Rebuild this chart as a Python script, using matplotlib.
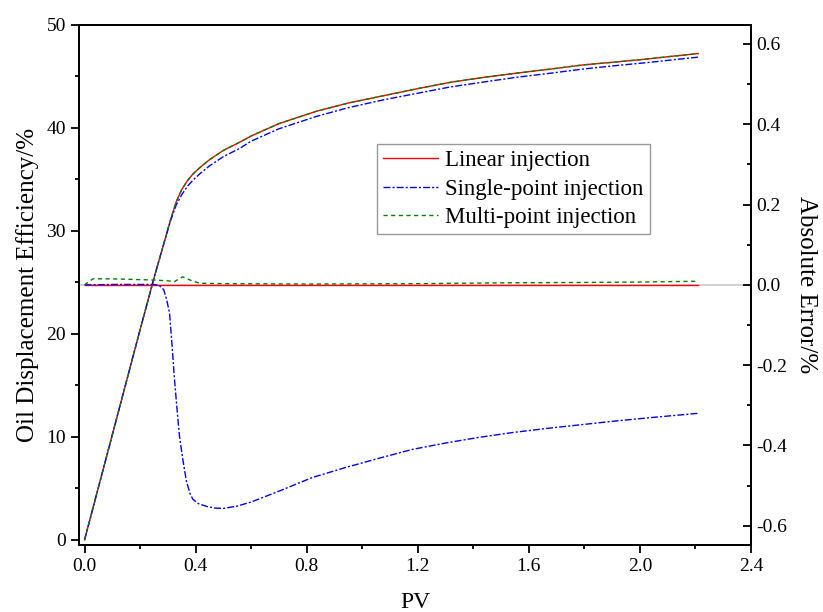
import numpy as np
import matplotlib
matplotlib.use('Agg')
import matplotlib.pyplot as plt
from matplotlib.ticker import MultipleLocator, FormatStrFormatter

plt.rcParams['font.family'] = 'Liberation Serif'
plt.rcParams['axes.unicode_minus'] = False

# oil displacement efficiency (%) vs PV
pv_eff = [0.0, 0.1, 0.2, 0.25, 0.288, 0.31, 0.33, 0.35, 0.37, 0.39, 0.414, 0.45, 0.5,
          0.559, 0.6, 0.7, 0.835, 0.95, 1.075, 1.2, 1.315, 1.44, 1.556, 1.68, 1.795,
          1.92, 2.036, 2.12, 2.21]
eff_linear = [0.0, 10.2, 20.4, 25.4, 29.0, 31.1, 32.8, 34.0, 34.85, 35.5, 36.1, 36.9, 37.8,
              38.6, 39.2, 40.4, 41.6, 42.4, 43.1, 43.8, 44.4, 44.9, 45.3, 45.7, 46.1,
              46.4, 46.7, 46.95, 47.2]
eff_single = [0.0, 10.2, 20.4, 25.4, 29.0, 31.0, 32.5, 33.5, 34.3, 34.9, 35.5, 36.3, 37.2,
              38.0, 38.7, 39.9, 41.1, 41.95, 42.7, 43.35, 43.95, 44.45, 44.9, 45.3, 45.7,
              46.05, 46.35, 46.6, 46.85]
eff_multi = [0.0, 10.2, 20.4, 25.4, 29.0, 31.1, 32.8, 34.0, 34.85, 35.5, 36.1, 36.9, 37.8,
             38.6, 39.2, 40.4, 41.6, 42.4, 43.1, 43.8, 44.4, 44.9, 45.3, 45.7, 46.1,
             46.4, 46.7, 46.95, 47.2]

# absolute error (%) vs PV
pv_err_lin = [0.0, 2.21]
err_linear = [0.0, 0.0]
pv_err_single = [0.0, 0.1, 0.2, 0.25, 0.27, 0.285, 0.295, 0.306, 0.315, 0.324, 0.333,
                 0.342, 0.355, 0.367, 0.38, 0.39, 0.41, 0.44, 0.47, 0.5, 0.55, 0.6, 0.7,
                 0.82, 0.94, 1.06, 1.18, 1.3, 1.42, 1.54, 1.66, 1.78, 1.9, 2.05, 2.21]
err_single = [0.0, 0.001, 0.001, 0.001, -0.002, -0.012, -0.035, -0.07, -0.15, -0.236,
              -0.31, -0.378, -0.44, -0.49, -0.52, -0.534, -0.545, -0.552, -0.556, -0.557,
              -0.551, -0.541, -0.514, -0.48, -0.455, -0.432, -0.41, -0.394, -0.38, -0.368,
              -0.358, -0.349, -0.34, -0.33, -0.32]
pv_err_multi = [0.0, 0.03, 0.1, 0.2, 0.25, 0.3, 0.324, 0.34, 0.353, 0.38, 0.414, 0.5,
                0.8, 1.2, 1.5, 1.8, 2.0, 2.21]
err_multi = [0.0, 0.015, 0.015, 0.013, 0.012, 0.010, 0.008, 0.015, 0.02, 0.012, 0.004,
             0.003, 0.002, 0.003, 0.005, 0.006, 0.007, 0.009]

fig = plt.figure(figsize=(8.23, 6.12), dpi=100)
ax = fig.add_axes([0.096, 0.1095, 0.8165, 0.8501])
ax2 = ax.twinx()

lw = 1.0
ax.plot(pv_eff, eff_linear, color='red', lw=lw, label='Linear injection')
ax.plot(pv_eff, eff_single, color='blue', lw=lw, dashes=(5, 1.5, 1.5, 1.5),
        label='Single-point injection')
ax.plot(pv_eff, eff_multi, color='green', lw=lw, dashes=(3, 2.5),
        label='Multi-point injection')

ax2.axhline(0, color='#c8c8c8', lw=1.2, zorder=0)
ax2.plot(pv_err_lin, err_linear, color='red', lw=lw)
ax2.plot(pv_err_single, err_single, color='blue', lw=lw, dashes=(5, 1.5, 1.5, 1.5))
ax2.plot(pv_err_multi, err_multi, color='green', lw=lw, dashes=(3, 2.5))

ax.set_xlim(-0.02, 2.4)
ax.set_ylim(-0.5, 50)
ax2.set_ylim(-0.648, 0.648)

ax.xaxis.set_major_locator(MultipleLocator(0.4))
ax.xaxis.set_minor_locator(MultipleLocator(0.2))
ax.xaxis.set_major_formatter(FormatStrFormatter('%.1f'))
ax.yaxis.set_major_locator(MultipleLocator(10))
ax.yaxis.set_minor_locator(MultipleLocator(5))
ax2.yaxis.set_major_locator(MultipleLocator(0.2))
ax2.yaxis.set_minor_locator(MultipleLocator(0.1))
ax2.yaxis.set_major_formatter(FormatStrFormatter('%.1f'))

for a in (ax, ax2):
    for s in a.spines.values():
        s.set_linewidth(1.3)
ax.tick_params(which='major', direction='out', length=6, width=1.3, labelsize=14)
ax.tick_params(which='minor', direction='out', length=3, width=1.3)
ax2.tick_params(which='major', direction='in', length=6, width=1.3, labelsize=14)
ax2.tick_params(which='minor', direction='in', length=3, width=1.3)

ax.set_xlabel('PV', fontsize=17, labelpad=12)
ax.set_ylabel('Oil Displacement Efficiency/%', fontsize=18, labelpad=5)
ax2.set_ylabel('Absolute Error/%', fontsize=18, rotation=270, labelpad=22)

leg = ax.legend(loc='upper left', bbox_to_anchor=(0.4435, 0.771), borderaxespad=0,
                fontsize=16.5, frameon=True, fancybox=False, edgecolor='#808080',
                handlelength=2.4, handletextpad=0.3, labelspacing=0.32,
                borderpad=0.28)
leg.get_frame().set_linewidth(1.0)

fig.savefig('out.png', dpi=100)
